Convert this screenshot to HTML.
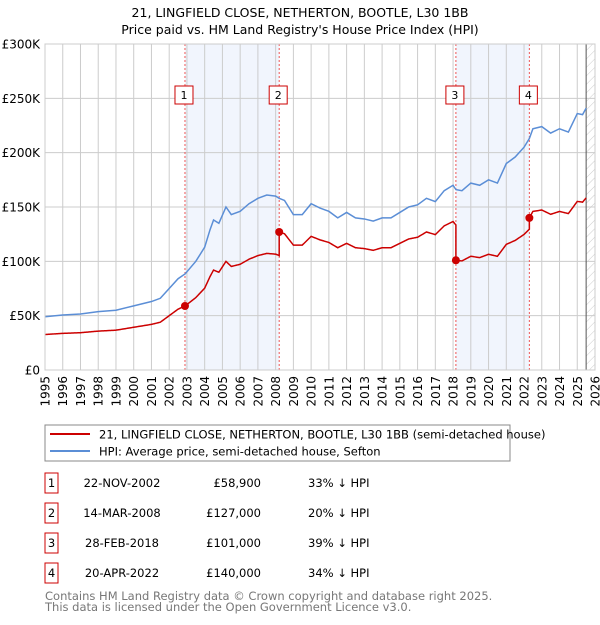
<!DOCTYPE html>
<html><head><meta charset="utf-8"><style>
body{margin:0;background:#fff;}
svg text{font-family:"DejaVu Sans","Liberation Sans",sans-serif;}
</style></head><body>
<svg id="chart" width="600" height="620" viewBox="0 0 600 620" xmlns="http://www.w3.org/2000/svg">
<text x="300" y="17" text-anchor="middle" font-size="12.5" fill="#000">21, LINGFIELD CLOSE, NETHERTON, BOOTLE, L30 1BB</text>
<text x="300" y="34" text-anchor="middle" font-size="12.5" fill="#000">Price paid vs. HM Land Registry's House Price Index (HPI)</text>
<g id="plot"></g>
<g>
<rect x="45" y="425" width="465" height="36" fill="#fff" stroke="#888"/>
<line x1="50" y1="434" x2="90" y2="434" stroke="#cc0000" stroke-width="2"/>
<text x="99" y="438.5" font-size="11.5">21, LINGFIELD CLOSE, NETHERTON, BOOTLE, L30 1BB (semi-detached house)</text>
<line x1="50" y1="451" x2="90" y2="451" stroke="#5b8ed6" stroke-width="2"/>
<text x="99" y="455.5" font-size="11.5">HPI: Average price, semi-detached house, Sefton</text>
</g>
<g id="table"></g>
<text x="45" y="600" font-size="11.5" fill="#777">Contains HM Land Registry data © Crown copyright and database right 2025.</text>
<text x="45" y="611" font-size="11.5" fill="#777">This data is licensed under the Open Government Licence v3.0.</text>
</svg>
<script>
const hpiYears=[1995,1996,1997,1998,1999,2000,2001,2001.5,2002,2002.5,2002.9,2003.5,2004,2004.3,2004.5,2004.8,2005.2,2005.5,2006,2006.5,2007,2007.5,2008,2008.2,2008.5,2009,2009.5,2010,2010.5,2011,2011.5,2012,2012.5,2013,2013.5,2014,2014.5,2015,2015.5,2016,2016.5,2017,2017.5,2018,2018.16,2018.5,2019,2019.5,2020,2020.5,2021,2021.5,2022,2022.3,2022.5,2023,2023.5,2024,2024.5,2025,2025.3,2025.5];
const hpiValues=[49,50.6,51.5,53.7,55,59,63,66,75,84,88.5,100,113,129,138,135,150,143,146,153,158,161,160,158,156,143,143,153,149,146,140,145,140,139,137,140,140,145,150,152,158,155,165,170,166,165,172,170,175,172,190,196,205,213,222,224,218,222,219,236,235,241];
const saleYears=[2002.89,2008.2,2018.16,2022.3];
const salePrices=[58.9,127,101,140];
const saleLabels=["1","2","3","4"];
const saleDates=["22-NOV-2002","14-MAR-2008","28-FEB-2018","20-APR-2022"];
const salePriceText=["£58,900","£127,000","£101,000","£140,000"];
const saleDiffText=["33% ↓ HPI","20% ↓ HPI","39% ↓ HPI","34% ↓ HPI"];
const yTicks=[0,50,100,150,200,250,300];
const yTickLabels=["£0","£50K","£100K","£150K","£200K","£250K","£300K"];
const xTicks=[1995,1996,1997,1998,1999,2000,2001,2002,2003,2004,2005,2006,2007,2008,2009,2010,2011,2012,2013,2014,2015,2016,2017,2018,2019,2020,2021,2022,2023,2024,2025,2026];

const NS="http://www.w3.org/2000/svg";
const X0=45,X1=595,Y0=370,Y1=44;
const xs=y=>X0+(y-1995)/(2026-1995)*(X1-X0);
const ys=v=>Y0-v/300*(Y0-Y1);
const plot=document.getElementById('plot');
function mk(tag,attrs,parent){const e=document.createElementNS(NS,tag);for(const k in attrs)e.setAttribute(k,attrs[k]);(parent||plot).appendChild(e);return e;}
function hpiAt(t){if(t<=hpiYears[0])return hpiValues[0];for(let i=1;i<hpiYears.length;i++){if(t<=hpiYears[i]){const f=(t-hpiYears[i-1])/(hpiYears[i]-hpiYears[i-1]);return hpiValues[i-1]+f*(hpiValues[i]-hpiValues[i-1]);}}return hpiValues[hpiValues.length-1];}

for(let i=0;i<saleYears.length;i+=2){
 const r=mk('rect',{x:xs(saleYears[i]),y:Y1,width:xs(saleYears[i+1])-xs(saleYears[i]),height:Y0-Y1,fill:'#f1f5fd'});
 
 
}
const defs=mk('defs',{});
const pat=mk('pattern',{id:'hatch',width:6,height:6,patternUnits:'userSpaceOnUse',patternTransform:'rotate(45)'},defs);
mk('line',{x1:0,y1:0,x2:0,y2:6,stroke:'#ccc','stroke-width':1},pat);
const hr=mk('rect',{x:xs(2025.5),y:Y1,width:X1-xs(2025.5),height:Y0-Y1,fill:'url(#hatch)'});


xTicks.forEach((t,i)=>{
 const l=mk('line',{x1:xs(t),y1:Y1,x2:xs(t),y2:Y0,stroke:'#cccccc','stroke-width':1});
 
 
 const tx=mk('text',{x:0,y:0,'text-anchor':'end','font-size':'12',transform:'translate('+(xs(t)+4.5)+',376) rotate(-90)'});
 tx.textContent=t;
 
 
});
yTicks.forEach((v,i)=>{
 const l=mk('line',{x1:X0,y1:ys(v),x2:X1,y2:ys(v),stroke:'#cccccc','stroke-width':1});
 
 
 const tx=mk('text',{x:40,y:ys(v)+4.5,'text-anchor':'end','font-size':'12'});
 tx.textContent=yTickLabels[i];
 
 
});
const nl=mk('line',{x1:xs(2025.5),y1:Y1,x2:xs(2025.5),y2:Y0,stroke:'#555','stroke-width':1});


saleYears.forEach((t,i)=>{
 const l=mk('line',{x1:xs(t),y1:Y1,x2:xs(t),y2:Y0,stroke:'#ee5555','stroke-width':1,'stroke-dasharray':'2,2'});
 
 
});
const hp=mk('polyline',{points:hpiYears.map((t,i)=>xs(t)+','+ys(hpiValues[i])).join(' '),fill:'none',stroke:'#5b8ed6','stroke-width':1.5});


let pts=[];
for(let t=1995;t<=2025.5001;t+=0.05){
 let k=0;for(let j=0;j<saleYears.length;j++)if(t>=saleYears[j])k=j;
 pts.push(xs(t)+','+ys(salePrices[k]*hpiAt(t)/hpiAt(saleYears[k])));
 for(let j=0;j<saleYears.length;j++){if(saleYears[j]>t&&saleYears[j]<t+0.05){const kk=j>0?j-1:0;pts.push(xs(saleYears[j])+','+ys(salePrices[kk]*hpiAt(saleYears[j])/hpiAt(saleYears[kk])));pts.push(xs(saleYears[j])+','+ys(salePrices[j]));}}
}
const pp=mk('polyline',{points:pts.join(' '),fill:'none',stroke:'#cc0000','stroke-width':1.5});


saleYears.forEach((t,i)=>{
 const c=mk('circle',{cx:xs(t),cy:ys(salePrices[i]),r:4,fill:'#cc0000'});
 
 
 const b=mk('rect',{x:xs(t)-10,y:86,width:18,height:18,fill:'#fff',stroke:'#cc0000'});
 
 
 const tx=mk('text',{x:xs(t)-1,y:99,'text-anchor':'middle','font-size':'11'});
 tx.textContent=saleLabels[i];
 
 
});
const frame=mk('rect',{x:X0,y:Y1,width:X1-X0,height:Y0-Y1,fill:'none',stroke:'#ccc'});


const tb=document.getElementById('table');
saleYears.forEach((t,i)=>{
 const cy=483+i*30;
 const b=mk('rect',{x:45,y:cy-10,width:13,height:20,fill:'#fff',stroke:'#cc0000'},tb);
 
 
 const n=mk('text',{x:51.5,y:cy+4,'text-anchor':'middle','font-size':'11.5'},tb);n.textContent=saleLabels[i];
 
 
 const d=mk('text',{x:122,y:cy+4,'text-anchor':'middle','font-size':'11.5'},tb);d.textContent=saleDates[i];
 
 
 const p=mk('text',{x:261,y:cy+4,'text-anchor':'end','font-size':'11.5'},tb);p.textContent=salePriceText[i];
 
 
 const h=mk('text',{x:308,y:cy+4,'font-size':'11.5'},tb);h.textContent=saleDiffText[i];
 
 
});
</script>
</body></html>
